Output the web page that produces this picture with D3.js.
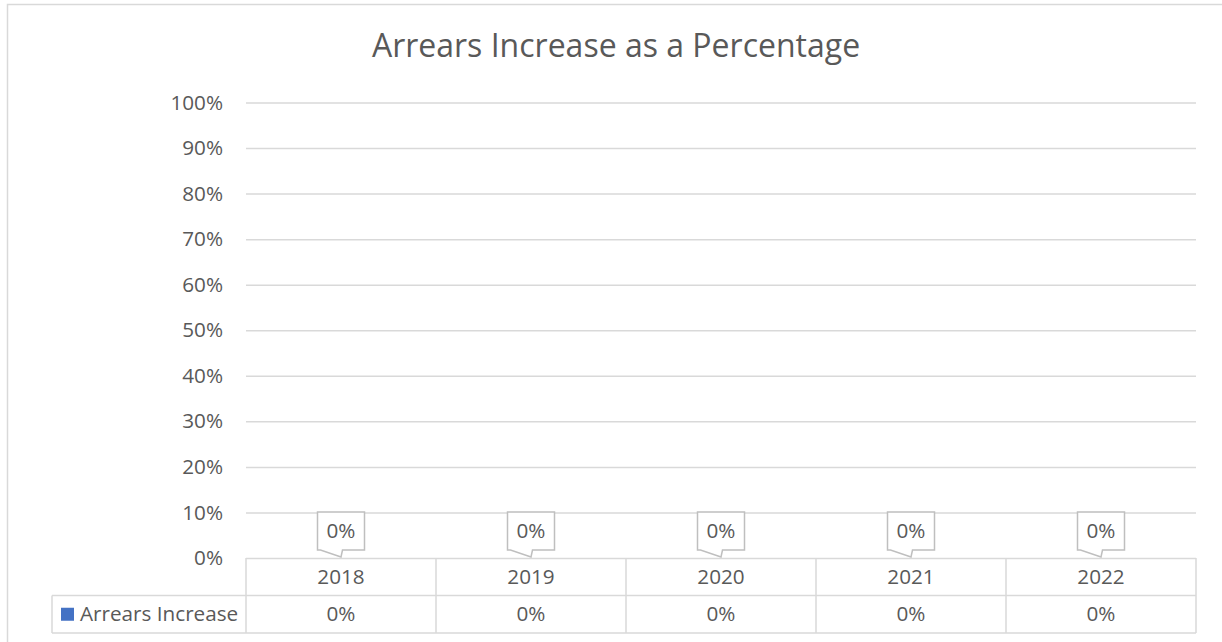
<!DOCTYPE html>
<html>
<head>
<meta charset="utf-8">
<script src="https://cdn.jsdelivr.net/npm/d3@7"></script>
<style>
  html, body { margin: 0; padding: 0; background: #fff; }
  svg { display: block; }
  text { font-family: "Open Sans", sans-serif; fill: #595959; }
</style>
</head>
<body>
<svg id="chart" width="1222" height="642"></svg>
<script>
// Chart data
const title = "Arrears Increase as a Percentage";
const seriesName = "Arrears Increase";
const years = ["2018", "2019", "2020", "2021", "2022"];
const arrearsIncrease = [0, 0, 0, 0, 0];
const yTicks = [0, 0.1, 0.2, 0.3, 0.4, 0.5, 0.6, 0.7, 0.8, 0.9, 1.0];

const W = 1222, H = 642;
const plot = { left: 246, right: 1196, top: 102.5, bottom: 558 };
const rowH = 37.5;
const legendLeft = 52;
const gridColor = "#D9D9D9";
const seriesColor = "#4472C4";
const labelSize = "20.7px";
const pct = d3.format(".0%");

const svg = d3.select("#chart");

// Outer chart area border
svg.append("rect")
  .attr("x", 7.5).attr("y", 4.5)
  .attr("width", W + 10).attr("height", H + 10)
  .attr("fill", "#fff").attr("stroke", gridColor).attr("stroke-width", 1.5);

// Title
svg.append("text")
  .attr("x", 616).attr("y", 57)
  .attr("text-anchor", "middle")
  .style("font-size", "32px")
  .text(title);

const x = d3.scaleBand().domain(years).range([plot.left, plot.right]).paddingInner(0).paddingOuter(0);
const y = d3.scaleLinear().domain([0, 1]).range([plot.bottom, plot.top]);

// Gridlines and value axis
const yAxis = svg.append("g")
  .attr("transform", `translate(${plot.left},0)`)
  .call(d3.axisLeft(y).tickValues(yTicks).tickFormat(pct)
    .tickSize(-(plot.right - plot.left)).tickPadding(23));
yAxis.select(".domain").remove();
yAxis.selectAll(".tick line").attr("stroke", gridColor).attr("stroke-width", 1.5);
yAxis.selectAll(".tick text")
  .attr("fill", "#595959")
  .style("font-size", labelSize)
  .style("font-family", "'Open Sans', sans-serif");

// Data table below the plot
const table = svg.append("g").attr("stroke", gridColor).attr("stroke-width", 1.5).attr("fill", "none");
const r0 = plot.bottom, r1 = plot.bottom + rowH, r2 = plot.bottom + 2 * rowH;
table.append("line").attr("x1", legendLeft).attr("x2", plot.right).attr("y1", r1).attr("y2", r1);
table.append("line").attr("x1", legendLeft).attr("x2", plot.right).attr("y1", r2).attr("y2", r2);
table.append("line").attr("x1", legendLeft).attr("x2", legendLeft).attr("y1", r1).attr("y2", r2);
const edges = years.map(d => x(d)).concat([plot.right]);
table.selectAll("line.v").data(edges).enter().append("line")
  .attr("class", "v")
  .attr("x1", d => d).attr("x2", d => d).attr("y1", r0).attr("y2", r2);

// Category labels
svg.selectAll("text.cat").data(years).enter().append("text")
  .attr("class", "cat")
  .attr("x", d => x(d) + x.bandwidth() / 2)
  .attr("y", (r0 + r1) / 2)
  .attr("dy", "0.35em")
  .attr("text-anchor", "middle")
  .style("font-size", labelSize)
  .text(d => d);

// Values row
svg.selectAll("text.val").data(arrearsIncrease).enter().append("text")
  .attr("class", "val")
  .attr("x", (d, i) => x(years[i]) + x.bandwidth() / 2)
  .attr("y", (r1 + r2) / 2)
  .attr("dy", "0.35em")
  .attr("text-anchor", "middle")
  .style("font-size", labelSize)
  .text(d => pct(d));

// Legend key in the table
svg.append("rect")
  .attr("x", 61).attr("y", (r1 + r2) / 2 - 6.5)
  .attr("width", 13).attr("height", 13)
  .attr("fill", seriesColor);
svg.append("text")
  .attr("x", 80).attr("y", (r1 + r2) / 2)
  .attr("dy", "0.35em")
  .style("font-size", labelSize)
  .text(seriesName);

// Columns (zero height) with callout data labels
const bw = 47, bh = 38, gap = 8;
const callouts = svg.selectAll("g.callout").data(arrearsIncrease).enter().append("g")
  .attr("class", "callout")
  .attr("transform", (d, i) => `translate(${x(years[i]) + x.bandwidth() / 2},${y(d)})`);
callouts.append("rect")
  .attr("x", -x.bandwidth() * 0.3).attr("width", x.bandwidth() * 0.6)
  .attr("y", 0).attr("height", d => plot.bottom - y(d))
  .attr("fill", seriesColor);
callouts.append("path")
  .attr("d", () => {
    const l = -bw / 2, r = bw / 2, t = -gap - bh, b = -gap;
    return `M${l},${t} H${r} V${b} H${1.5} L0,-1 L${l + 3},${b} H${l} Z`;
  })
  .attr("fill", "#fff").attr("stroke", "#BFBFBF").attr("stroke-width", 1.5);
callouts.append("text")
  .attr("y", -gap - bh / 2)
  .attr("dy", "0.35em")
  .attr("text-anchor", "middle")
  .style("font-size", labelSize)
  .text(d => pct(d));
</script>
</body>
</html>
